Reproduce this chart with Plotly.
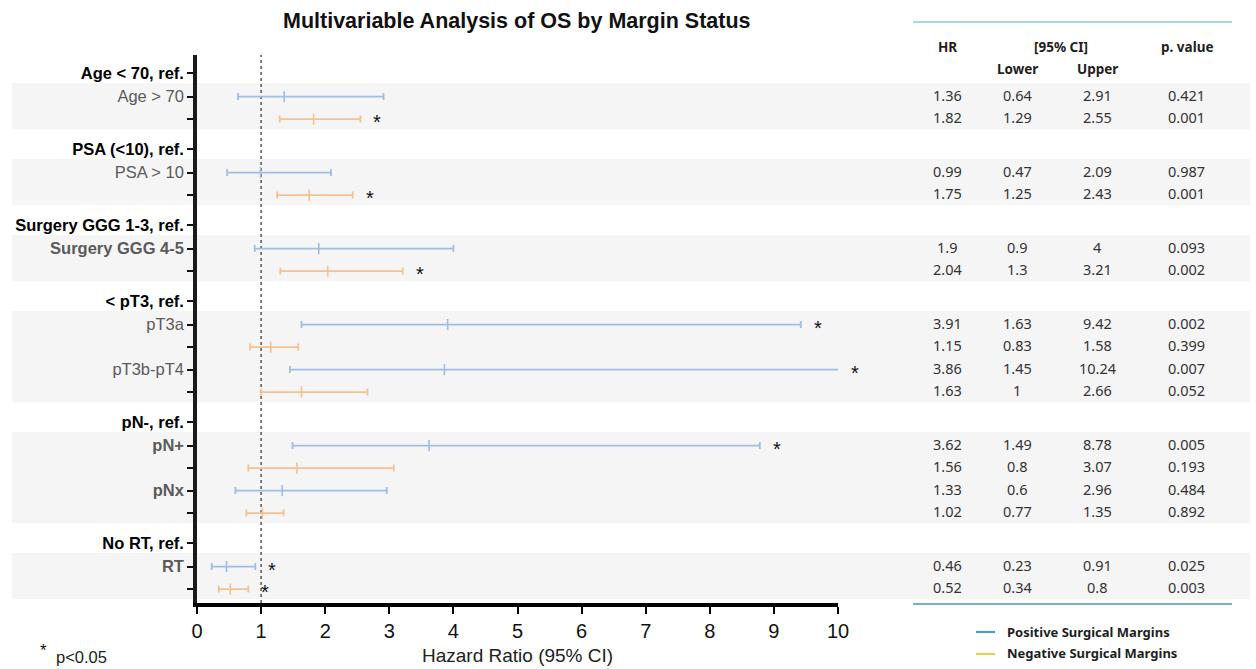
import plotly.graph_objects as go

# ---------------- data ----------------
ref_labels = ["Age < 70, ref.", "PSA (<10), ref.", "Surgery GGG 1-3, ref.",
              "< pT3, ref.", "pN-, ref.", "No RT, ref."]
group_items = [["Age > 70"], ["PSA > 10"], ["Surgery GGG 4-5"],
               ["pT3a", "pT3b-pT4"], ["pN+", "pNx"], ["RT"]]

pos_hr = [1.36, 0.99, 1.9, 3.91, 3.86, 3.62, 1.33, 0.46]
pos_lo = [0.64, 0.47, 0.9, 1.63, 1.45, 1.49, 0.6, 0.23]
pos_hi = [2.91, 2.09, 4, 9.42, 10.24, 8.78, 2.96, 0.91]
pos_p = [0.421, 0.987, 0.093, 0.002, 0.007, 0.005, 0.484, 0.025]

neg_hr = [1.82, 1.75, 2.04, 1.15, 1.63, 1.56, 1.02, 0.52]
neg_lo = [1.29, 1.25, 1.3, 0.83, 1, 0.8, 0.77, 0.34]
neg_hi = [2.55, 2.43, 3.21, 1.58, 2.66, 3.07, 1.35, 0.8]
neg_p = [0.001, 0.001, 0.002, 0.399, 0.052, 0.193, 0.892, 0.003]

x_ticks = [0, 1, 2, 3, 4, 5, 6, 7, 8, 9, 10]
ref_line = 1
sig_level = 0.05

# ---------------- style ----------------
BLUE = "#9fbde6"
ORANGE = "#f3c28f"
BAND = "#f5f5f5"
GRAY_TXT = "#5a5a5a"
bold_items = {"Surgery GGG 4-5", "pN+", "pNx", "RT"}
FONT = "Liberation Sans, Arial, sans-serif"
TFONT = "Noto Sans, Open Sans, sans-serif"

L, R_EDGE, TOP, BOT = 197, 838, 55, 603
W, H = 1256, 669


def pxx(px):
    return (px - L) / (R_EDGE - L)


def pxy(py):
    return (BOT - py) / (BOT - TOP)


def esc(s):
    return s.replace("<", "&lt;").replace(">", "&gt;")


# ---------------- row positions (category layout) ----------------
REF_STEP, ROW_STEP, GROUP_GAP = 1.05, 1.0, 1.33
tickvals, ticktext = [], []
pos_y, neg_y = [], []
bands = []
y = 0.0
for gi, (ref, items) in enumerate(zip(ref_labels, group_items)):
    if gi > 0:
        y += GROUP_GAP
    tickvals.append(y)
    ticktext.append("<b>" + esc(ref) + "</b>")
    y += REF_STEP
    first = y
    for k, it in enumerate(items):
        if k > 0:
            y += ROW_STEP
        lab = esc(it)
        if it in bold_items:
            lab = "<b>" + lab + "</b>"
        tickvals.append(y)
        ticktext.append(f"<span style='color:{GRAY_TXT}'>{lab}</span>")
        pos_y.append(y)
        y += ROW_STEP
        tickvals.append(y)
        ticktext.append("")
        neg_y.append(y)
    bands.append((first, y))
last_y = y

fig = go.Figure()


def add_series(hr, lo, hi, ys, color, name):
    fig.add_trace(go.Scatter(
        x=hr, y=ys, mode="markers", name=name, showlegend=False,
        marker=dict(symbol="line-ns", size=8, line=dict(width=1.6, color=color), color=color),
        error_x=dict(type="data", symmetric=False,
                     array=[h - m for h, m in zip(hi, hr)],
                     arrayminus=[m - l for m, l in zip(hr, lo)],
                     color=color, thickness=1.8, width=3.5),
        hoverinfo="skip",
    ))


add_series(pos_hr, pos_lo, pos_hi, pos_y, BLUE, "Positive Surgical Margins")
add_series(neg_hr, neg_lo, neg_hi, neg_y, ORANGE, "Negative Surgical Margins")

shapes = []
for a, b in bands:
    shapes.append(dict(type="rect", xref="paper", yref="y", x0=pxx(12), x1=pxx(1250),
                       y0=a - 0.6, y1=b + 0.45, fillcolor=BAND, line=dict(width=0),
                       layer="below"))
shapes.append(dict(type="line", xref="x", yref="paper", x0=ref_line, x1=ref_line, y0=0, y1=1,
                   line=dict(color="#555555", width=1.5, dash="dot"), layer="below"))
# table rules
shapes.append(dict(type="line", xref="paper", yref="paper", x0=pxx(913), x1=pxx(1232),
                   y0=pxy(22), y1=pxy(22), line=dict(color="#8ecbd6", width=1.5)))
shapes.append(dict(type="line", xref="paper", yref="paper", x0=pxx(913), x1=pxx(1232),
                   y0=pxy(604), y1=pxy(604), line=dict(color="#4f90b8", width=1.5)))
# legend swatches
shapes.append(dict(type="line", xref="paper", yref="paper", x0=pxx(976), x1=pxx(995),
                   y0=pxy(632), y1=pxy(632), line=dict(color="#4a9ec6", width=2.2)))
shapes.append(dict(type="line", xref="paper", yref="paper", x0=pxx(976), x1=pxx(995),
                   y0=pxy(654), y1=pxy(654), line=dict(color="#e5cf53", width=2.2)))

ann = []


def add_text(txt, x, y, xref="paper", yref="paper", xanchor="center", font=None, **kw):
    ann.append(dict(x=x, y=y, xref=xref, yref=yref, text=txt, showarrow=False,
                    xanchor=xanchor, yanchor="middle", font=font, **kw))


# significance stars
for hr_hi, pv, yy in list(zip(pos_hi, pos_p, pos_y)) + list(zip(neg_hi, neg_p, neg_y)):
    if pv < sig_level:
        add_text("*", min(hr_hi, x_ticks[-1]), yy, xref="x", yref="y", xshift=17, yshift=-3,
                 font=dict(family=FONT, size=20, color="#111111"))

# table values
cols_px = [947, 1017, 1097, 1186]


def fmt(v):
    return f"{v:g}"


for vals, ys in ((zip(pos_hr, pos_lo, pos_hi, pos_p), pos_y),
                 (zip(neg_hr, neg_lo, neg_hi, neg_p), neg_y)):
    for (hr, lo, hi, pv), yy in zip(vals, ys):
        for cx, txt in zip(cols_px, [fmt(hr), fmt(lo), fmt(hi), f"{pv:.3f}"]):
            add_text(txt, pxx(cx), yy, yref="y", yshift=2,
                     font=dict(family=TFONT, size=14.5, color="#333333"))

hdr_font = dict(family=TFONT, size=13.5, color="#1e1e1e")
for txt, cx, cy in [("<b>HR</b>", 947, 47), ("<b>[95% CI]</b>", 1061, 47),
                    ("<b>p. value</b>", 1187, 47), ("<b>Lower</b>", 1017, 69),
                    ("<b>Upper</b>", 1097, 69)]:
    add_text(txt, pxx(cx), pxy(cy), font=hdr_font)

# legend texts
for txt, cy in [("<b>Positive Surgical Margins</b>", 632), ("<b>Negative Surgical Margins</b>", 653)]:
    add_text(txt, pxx(1005), pxy(cy), xanchor="left",
             font=dict(family=TFONT, size=13, color="#1e1e1e"))

# title, axis title, footnote
add_text("<b>Multivariable Analysis of OS by Margin Status</b>", pxx(517), pxy(21),
         font=dict(family=FONT, size=21.5, color="#111111"))
add_text("Hazard Ratio (95% CI)", pxx(517), pxy(655),
         font=dict(family=FONT, size=19, color="#222222"))
add_text("*", pxx(43), pxy(650), font=dict(family=FONT, size=17, color="#111111"))
add_text("p&lt;0.05", pxx(54), pxy(657), xanchor="left",
         font=dict(family=FONT, size=16.5, color="#222222"))

fig.update_layout(
    width=W, height=H,
    margin=dict(l=L, r=W - R_EDGE, t=TOP, b=H - BOT),
    paper_bgcolor="white", plot_bgcolor="rgba(0,0,0,0)",
    showlegend=False,
    shapes=shapes, annotations=ann,
    xaxis=dict(range=[x_ticks[0], x_ticks[-1]], tickvals=x_ticks, ticks="outside",
               ticklen=7, tickwidth=2, tickcolor="black", showline=True, linewidth=3.5,
               linecolor="black", showgrid=False, zeroline=False,
               tickfont=dict(family=FONT, size=20, color="#111111")),
    yaxis=dict(range=[last_y + 0.62, -0.80], tickvals=tickvals, ticktext=ticktext,
               ticks="outside", ticklen=6, tickwidth=2, tickcolor="#111111",
               showline=True, linewidth=3.5, linecolor="#1a1a1a", showgrid=False,
               zeroline=False, tickfont=dict(family=FONT, size=16.5, color="#000000")),
)

fig.write_html("out.html")
